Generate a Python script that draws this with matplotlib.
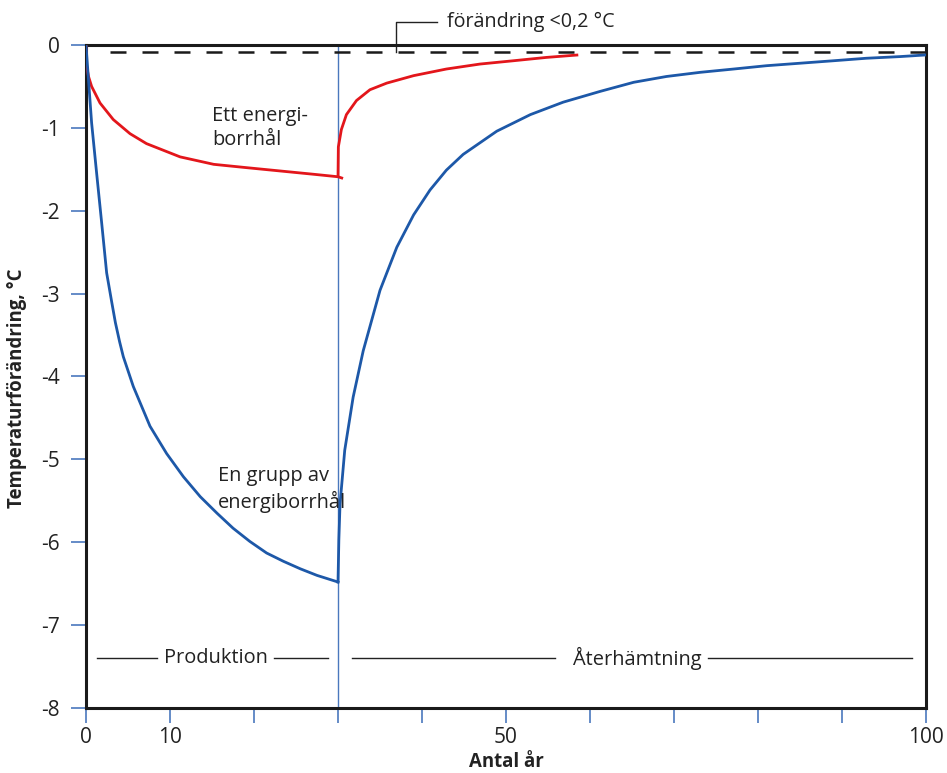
import matplotlib
matplotlib.use("Agg")
import matplotlib.pyplot as plt

plt.rcParams['font.family'] = ['Open Sans', 'DejaVu Sans']

# ett borrhål (röd) och en grupp borrhål (blå)
ett_prod_x = [0, 0.08, 0.3, 0.67, 1.67, 3.25, 5.24, 7.2, 9.2, 11.2, 15.2, 19.1, 23.1, 27.1, 30.0, 30.6]
ett_prod_y = [0, -0.26, -0.38, -0.5, -0.70, -0.90, -1.07, -1.19, -1.27, -1.35, -1.44, -1.48,
              -1.52, -1.56, -1.59, -1.61]
ett_ater_x = [30, 30.04, 30.4, 31.0, 32.2, 33.8, 35.8, 39.0, 42.9, 46.9, 50.9, 54.8, 58.6]
ett_ater_y = [-1.60, -1.23, -1.02, -0.84, -0.67, -0.54, -0.46, -0.37, -0.29, -0.23, -0.19,
              -0.15, -0.12]

grupp_prod_x = [0, 0.27, 0.67, 1.27, 1.87, 2.46, 3.06, 3.5, 4.0, 4.44, 5.63, 7.62, 9.6, 11.6,
                13.6, 15.6, 17.5, 19.5, 21.5, 23.5, 25.5, 27.5, 30]
grupp_prod_y = [0, -0.38, -0.94, -1.55, -2.15, -2.75, -3.1, -3.35, -3.58, -3.76, -4.12, -4.60,
                -4.93, -5.21, -5.45, -5.65, -5.83, -5.99, -6.13, -6.23, -6.32, -6.40, -6.48]
grupp_ater_x = [30, 30.1, 30.24, 30.8, 31.8, 33.0, 35.0, 37.0, 39.0, 40.95, 42.9, 44.9, 48.9,
                52.9, 56.8, 61.2, 65.2, 69.1, 73.1, 77.1, 81.0, 85.0, 89.0, 92.9, 96.9, 100]
grupp_ater_y = [-6.48, -5.97, -5.54, -4.89, -4.25, -3.69, -2.96, -2.44, -2.05, -1.75, -1.51,
                -1.32, -1.04, -0.84, -0.69, -0.56, -0.45, -0.38, -0.33, -0.29, -0.25, -0.22,
                -0.19, -0.16, -0.14, -0.12]

troskel = -0.08  # streckad linje, förändring <0,2 °C

xticks = [0, 10, 20, 30, 40, 50, 60, 70, 80, 90, 100]
xticklabels = ['0', '10', '', '', '', '50', '', '', '', '', '100']
yticks = [0, -1, -2, -3, -4, -5, -6, -7, -8]

red = '#e3161b'
blue = '#1d58a8'
tickblue = '#4a78bd'
txt = '#222222'

fig = plt.figure(figsize=(9.47, 7.73), dpi=100)
ax = fig.add_axes([0.0908, 0.0841, 0.8871, 0.8577])

ax.set_xlim(0, 100)
ax.set_ylim(-8, 0)

ax.axvline(30, color=tickblue, lw=1.0, zorder=1)
ax.axhline(troskel, color='#1a1a1a', lw=1.8, dashes=(6.4, 6.4), xmin=0.029, zorder=2)

kw = dict(lw=2.0, solid_joinstyle='round', zorder=3)
ax.plot(ett_prod_x, ett_prod_y, color=red, solid_capstyle='butt', **kw)
ax.plot(ett_ater_x, ett_ater_y, color=red, solid_capstyle='butt', **kw)
ax.plot(grupp_prod_x, grupp_prod_y, color=blue, **kw)
ax.plot(grupp_ater_x, grupp_ater_y, color=blue, **kw)

# markering för <0,2 °C
ax.plot([36.9, 36.9, 41.8], [troskel, 0.28, 0.28], color=txt, lw=1, clip_on=False)
ax.text(43, 0.28, 'förändring <0,2 °C', fontsize=14.2, color=txt, va='center',
        ha='left', clip_on=False)

ax.text(15, -1.0, 'Ett energi-\nborrhål', fontsize=14.4, color=txt, va='center',
        ha='left', linespacing=1.3)
ax.text(15.7, -5.36, 'En grupp av\nenergiborrhål', fontsize=14.4, color=txt,
        va='center', ha='left', linespacing=1.3)

# faser
ax.plot([1.3, 8.5], [-7.4, -7.4], color=txt, lw=1)
ax.plot([22.4, 28.8], [-7.4, -7.4], color=txt, lw=1)
ax.text(15.5, -7.4, 'Produktion', fontsize=14.4, color=txt, ha='center', va='center')
ax.plot([31.7, 55.8], [-7.4, -7.4], color=txt, lw=1)
ax.plot([74, 98.3], [-7.4, -7.4], color=txt, lw=1)
ax.text(65.6, -7.4, 'Återhämtning', fontsize=14.4, color=txt, ha='center', va='center')

ax.set_xticks(xticks)
ax.set_xticklabels(xticklabels)
ax.set_yticks(yticks)
ax.set_yticklabels([str(v) for v in yticks])
ax.tick_params(axis='both', direction='out', length=11, width=1.2, color=tickblue,
               labelsize=15, labelcolor=txt)
ax.tick_params(axis='x', pad=3)
ax.tick_params(axis='y', pad=8)

for s in ax.spines.values():
    s.set_linewidth(2.2)
    s.set_color('#1a1a1a')

ax.set_xlabel('Antal år', fontsize=13.4, fontweight='bold', color=txt)
ax.xaxis.set_label_coords(0.5, -0.066)
ax.set_ylabel('Temperaturförändring, °C', fontsize=13.4, fontweight='bold', color=txt)
ax.yaxis.set_label_coords(-0.07, 0.483)

fig.savefig('out.png', dpi=100)
